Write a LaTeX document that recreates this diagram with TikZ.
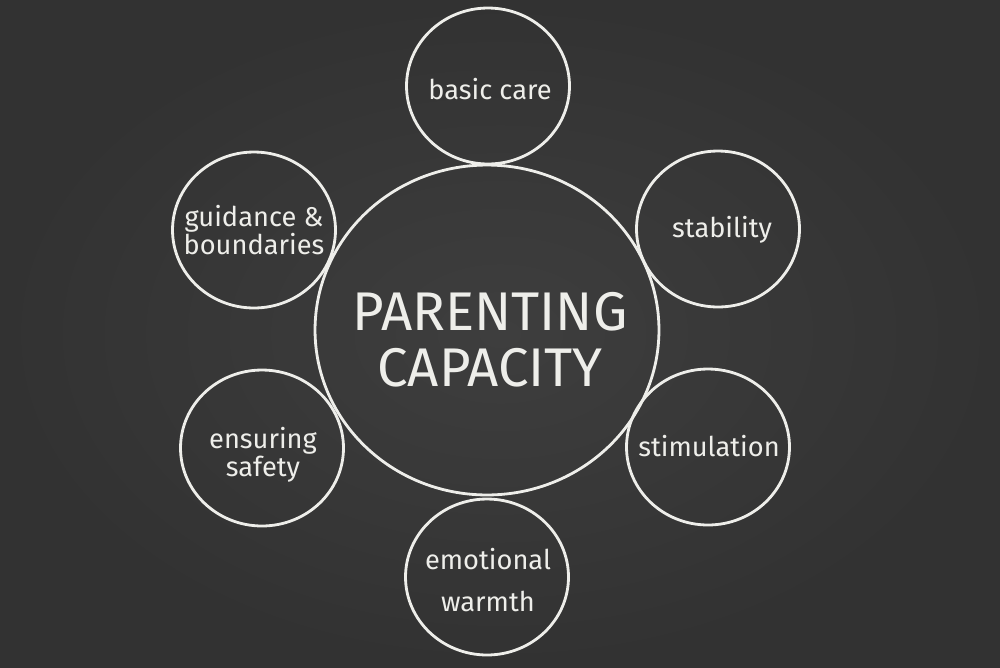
\documentclass[tikz,border=0pt]{standalone}
\usepackage{fontspec}
\setmainfont{Fira Sans}
\usepackage{tikz}
\usetikzlibrary{positioning,shapes.geometric}

\definecolor{board}{RGB}{62,62,62}
\definecolor{boardedge}{RGB}{50,50,50}
\definecolor{chalk}{RGB}{238,238,234}

\begin{document}
\begin{tikzpicture}[
  x=0.02cm, y=-0.02cm,
  ring/.style={ellipse, draw=chalk, line width=1.6pt, inner sep=0pt},
  small/.style={ring, minimum width=3.26cm, minimum height=3.12cm},
  big/.style={ring, minimum width=6.88cm, minimum height=6.6cm},
  word/.style={text=chalk, align=center, inner sep=0pt, font={\fontsize{15.5}{14}\selectfont}},
  title/.style={word, font={\fontsize{31}{32}\selectfont}}
]
\shade[inner color=board, outer color=boardedge] (0,0) rectangle (1000,667);
\useasboundingbox (0,0) rectangle (1000,667);

\node[big] (pc) at (487,330) {};
\node[title] (pctxt) at (490,340) {PARENTING\\CAPACITY};

\node[small] (care) at (488,86) {};
\node[small] (stab) at (718,229) {};
\node[small] (stim) at (708,447) {};
\node[small] (warm) at (487,577) {};
\node[small] (safe) at (262,448) {};
\node[small] (guid) at (254,230) {};

\node[word] (caretxt) at (490,89) {basic care};
\node[word] (stabtxt) at (722,230) {stability};
\node[word] (stimtxt) at (709,446) {stimulation};
\node[word, font={\fontsize{15.5}{24}\selectfont}] (warmtxt) at (488,580) {emotional\\warmth};
\node[word] (safetxt) at (263,455) {ensuring\\safety};
\node[word] (guidtxt) at (254,230) {guidance \&\\boundaries};

\end{tikzpicture}
\end{document}
